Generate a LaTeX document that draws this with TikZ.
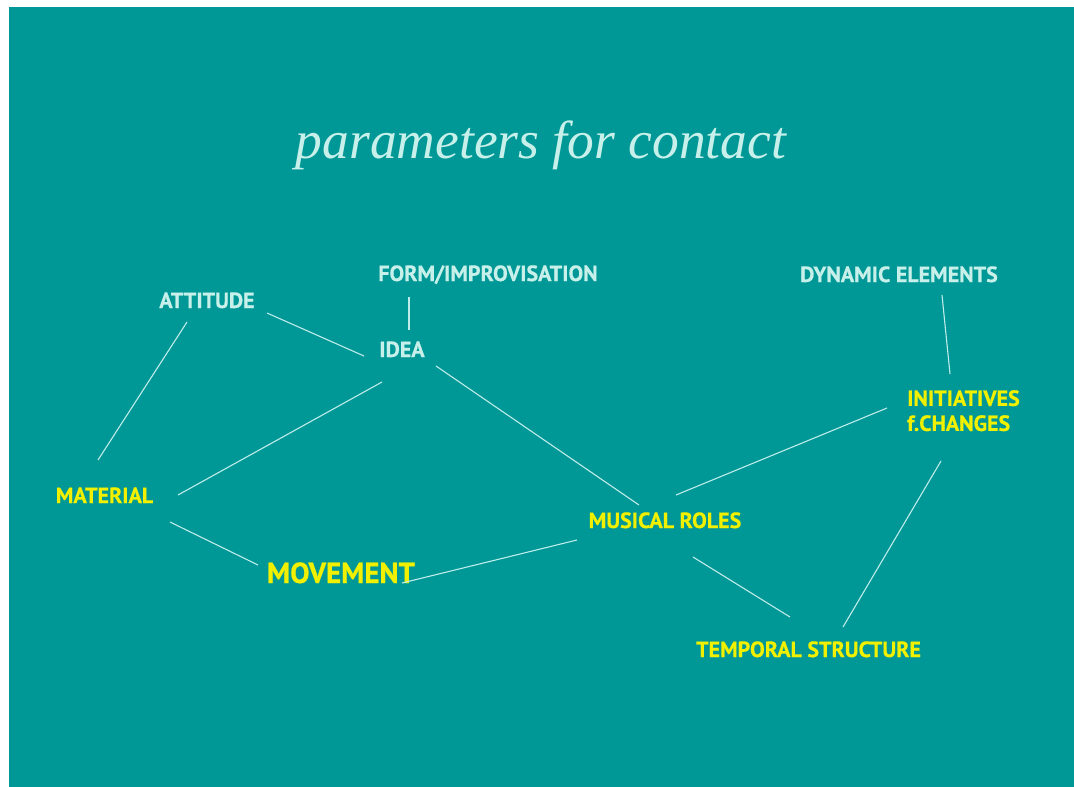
\documentclass[tikz,border=0pt]{standalone}
\usepackage{fontspec}
\setmainfont{Liberation Serif}
\newfontfamily\labfont{PT Sans}[BoldFeatures={FakeBold=0.6}]
\usetikzlibrary{calc}
\definecolor{bgteal}{RGB}{0,152,150}
\definecolor{mint}{RGB}{200,240,234}
\definecolor{labyellow}{RGB}{240,240,0}
\definecolor{linecol}{RGB}{190,236,234}
\tikzset{
  lab/.style={inner sep=0pt, anchor=base, font=\labfont\bfseries\fontsize{22}{25}\selectfont},
  mintlab/.style={lab, text=mint},
  yellab/.style={lab, text=labyellow},
  link/.style={draw=linecol, line width=1.1pt},
}
\begin{document}
\begin{tikzpicture}[x=1pt,y=-1pt]
\useasboundingbox (0,0) rectangle (1074,787);
\fill[white] (0,0) rectangle (1074,787);
\fill[bgteal] (9,7) rectangle (1074,787);
\node[inner sep=0pt, anchor=base, text=mint, font=\itshape\fontsize{53.5}{60}\selectfont] (title) at (541,158) {parameters for contact};
\node[mintlab] (att) at (207,308) {ATTITUDE};
\node[mintlab] (form) at (488,281) {FORM/IMPROVISATION};
\node[mintlab] (idea) at (402,357) {IDEA};
\node[mintlab] (dyn) at (899,282) {DYNAMIC ELEMENTS};
\node[yellab, anchor=north west, align=left] (init) at (907,390) {INITIATIVES\\f.CHANGES};
\node[yellab] (mat) at (104.5,503) {MATERIAL};
\node[yellab, font=\labfont\bfseries\fontsize{29}{34}\selectfont] (mov) at (341,583) {MOVEMENT};
\node[yellab] (mus) at (665,528) {MUSICAL ROLES};
\node[yellab] (temp) at (808.5,657) {TEMPORAL STRUCTURE};
\draw[link] ($(att.base)+(-20,14)$) -- ($(mat.base)+(-6.5,-43)$);
\draw[link] ($(att.base)+(60,5)$) -- ($(idea.base)+(-38,-1)$);
\draw[link] ($(form.base)+(-79,16)$) -- ($(idea.base)+(7,-27)$);
\draw[link] ($(idea.base)+(-20,25)$) -- ($(mat.base)+(73.5,-8)$);
\draw[link] ($(idea.base)+(34,9)$) -- ($(mus.base)+(-26,-23)$);
\draw[link] ($(mat.base)+(65.5,19)$) -- ($(mov.base)+(-83,-18)$);
\draw[link] ($(mov.base)+(61,0)$) -- ($(mus.base)+(-88,12)$);
\draw[link] ($(mus.base)+(11,-33)$) -- ($(init.north west)+(-20,18)$);
\draw[link] ($(mus.base)+(28,29)$) -- ($(temp.base)+(-18.5,-40)$);
\draw[link] ($(init.north west)+(34,71)$) -- ($(temp.base)+(34.5,-30)$);
\draw[link] ($(dyn.base)+(43,13)$) -- ($(init.north west)+(43,-16)$);
\end{tikzpicture}
\end{document}
